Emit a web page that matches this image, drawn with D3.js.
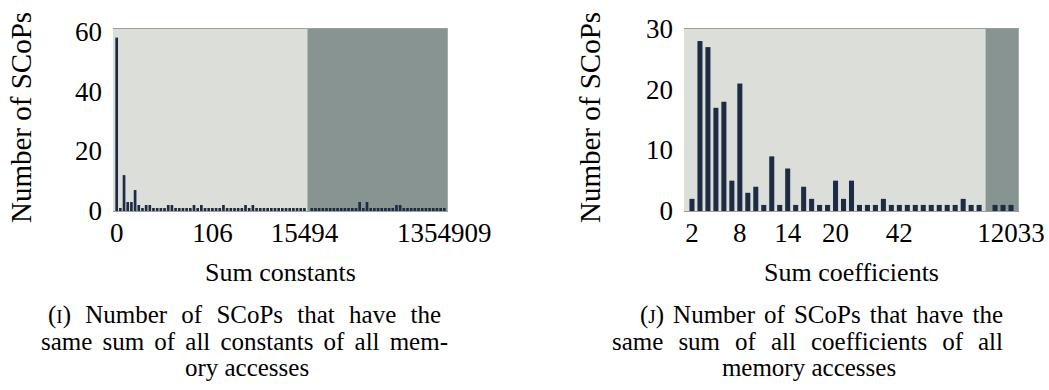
<!DOCTYPE html>
<html>
<head>
<meta charset="utf-8">
<script src="https://cdn.jsdelivr.net/npm/d3@7"></script>
<style>
  html, body { margin: 0; padding: 0; background: #fff; }
  svg { display: block; }
  text { font-family: "Liberation Serif", "DejaVu Serif", serif; fill: #000; }
</style>
</head>
<body>
<svg id="chart" width="1049" height="390"></svg>
<script>
// Panel (i): number of SCoPs per sum of constants
const constSlotsLight = [58, 1, 12, 3, 3, 7, 2, 1, 2, 2, 1, 1, 1, 1, 2, 2, 1, 1, 1, 1, 1, 2, 1, 2, 1, 1, 1, 1, 1, 2,
                         1, 1, 1, 1, 1, 2, 1, 2, 1, 1, 1, 1, 1, 1, 1, 1, 1, 1, 1, 1, 1, 1];
const constSlotsDark  = [1, 1, 1, 1, 1, 1, 1, 1, 1, 1, 1, 1, 1, 3, 1, 3, 1, 1, 1, 1, 1, 1, 1, 2, 2, 1, 1, 1, 1, 1,
                         1, 1, 1, 1, 1, 1, 1];
const constTickSlots  = [0, 26, 51, 89];
const constTickLabels = ["0", "106", "15494", "1354909"];
const constYTicks     = [0, 20, 40, 60];

// Panel (j): number of SCoPs per sum of coefficients
const coefSlotsLight  = [2, 28, 27, 17, 18, 5, 21, 3, 4, 1, 9, 1, 7, 1, 4, 2, 1, 1, 5, 2, 5, 1, 1, 1, 2, 1, 1, 1, 1, 1,
                         1, 1, 1, 1, 2, 1, 1];
const coefSlotsDark   = [1, 1, 1];
const coefTickSlots   = [0, 6, 12, 18, 26, 40];
const coefTickLabels  = ["2", "8", "14", "20", "42", "12033"];
const coefYTicks      = [0, 10, 20, 30];

const svg = d3.select("#chart");
const BAR = "#1e2b45", LIGHT = "#dcdeda", DARK = "#889492";

function panel(o) {
  const g = svg.append("g");
  const nLight = o.light.length;
  const gapSlot = nLight;                 // empty slot separating the two ranges
  const nSlots = nLight + 1 + o.dark.length;
  const x = d3.scaleLinear().domain([-1, nSlots]).range([o.left, o.right]);
  const y = d3.scaleLinear().domain([0, o.yMax]).range([o.bottom, o.top]);
  const step = x(1) - x(0);
  const bw = step * o.barFrac;
  const split = x(gapSlot) - step * 0.2;

  g.append("rect").attr("x", o.left).attr("y", o.top)
    .attr("width", split - o.left).attr("height", o.bottom - o.top).attr("fill", LIGHT);
  g.append("rect").attr("x", split).attr("y", o.top)
    .attr("width", o.right - split).attr("height", o.bottom - o.top).attr("fill", DARK);

  const bars = o.light.map((v, i) => ({ slot: i, v }))
    .concat(o.dark.map((v, i) => ({ slot: gapSlot + 1 + i, v })));
  g.selectAll("rect.bar").data(bars).join("rect").attr("class", "bar")
    .attr("x", d => x(d.slot) - bw / 2).attr("width", bw)
    .attr("y", d => y(d.v)).attr("height", d => y(0) - y(d.v))
    .attr("fill", BAR);

  // frame lines
  g.append("line").attr("x1", o.left).attr("x2", o.right).attr("y1", o.top + 0.5).attr("y2", o.top + 0.5)
    .attr("stroke", "#9ca09c").attr("stroke-width", 1);
  g.append("line").attr("x1", o.left).attr("x2", o.right).attr("y1", o.bottom + 0.5).attr("y2", o.bottom + 0.5)
    .attr("stroke", "#9ca09c").attr("stroke-width", 1.2);
  g.append("line").attr("x1", o.right - 0.5).attr("x2", o.right - 0.5).attr("y1", o.top).attr("y2", o.bottom)
    .attr("stroke", "#a7aca9").attr("stroke-width", 1);

  // y axis labels
  const yAxis = d3.axisLeft(y).tickValues(o.yTicks).tickSize(0).tickPadding(11);
  const ya = g.append("g").attr("transform", `translate(${o.left},0)`).call(yAxis);
  ya.select(".domain").remove();
  ya.selectAll("text").attr("font-size", 27).attr("font-family", "Liberation Serif").attr("fill", "#000");

  // x axis labels at their category slots
  const xa = g.append("g");
  xa.selectAll("text").data(o.xSlots).join("text")
    .attr("x", s => x(s)).attr("y", 242)
    .attr("text-anchor", "middle").attr("font-size", 27)
    .text((s, i) => o.xLabels[i]);

  g.append("text").attr("transform", `translate(${o.yTitleX},${(o.top + o.bottom) / 2 - 2}) rotate(-90)`)
    .attr("text-anchor", "middle").attr("dominant-baseline", "central")
    .attr("font-size", 29).text("Number of SCoPs");

  g.append("text").attr("x", (o.left + o.right) / 2).attr("y", 281)
    .attr("text-anchor", "middle").attr("font-size", 26).text(o.xTitle);

  // caption, justified lines
  o.caption.forEach((ln, i) => {
    const t = g.append("text").attr("y", 323 + i * 26.5).attr("font-size", 25);
    if (ln.tag) {
      t.append("tspan").text("(");
      t.append("tspan").attr("font-size", 19).text(ln.tag);
      t.append("tspan").text(") " + ln.text);
    } else {
      t.text(ln.text);
    }
    if (ln.x1 !== undefined) {
      t.attr("x", ln.x0);
      const natural = t.node().getComputedTextLength();
      const spaces = ((ln.tag ? "() " : "") + ln.text).split(" ").length - 1;
      t.attr("word-spacing", (ln.x1 - ln.x0 - natural) / spaces);
    } else {
      t.attr("x", ln.cx).attr("text-anchor", "middle");
    }
  });
}

panel({
  light: constSlotsLight, dark: constSlotsDark,
  left: 113, right: 448, top: 28, bottom: 211, yMax: 61.2, barFrac: 0.73,
  yTicks: constYTicks, xSlots: constTickSlots, xLabels: constTickLabels,
  yTitleX: 21, xTitle: "Sum constants",
  caption: [
    { tag: "I", text: "Number of SCoPs that have the", x0: 48, x1: 441 },
    { text: "same sum of all constants of all mem-", x0: 41, x1: 448 },
    { text: "ory accesses", cx: 247 }
  ]
});

panel({
  light: coefSlotsLight, dark: coefSlotsDark,
  left: 684, right: 1019, top: 28, bottom: 211, yMax: 30.15, barFrac: 0.63,
  yTicks: coefYTicks, xSlots: coefTickSlots, xLabels: coefTickLabels,
  yTitleX: 590, xTitle: "Sum coefficients",
  caption: [
    { tag: "J", text: "Number of SCoPs that have the", x0: 640, x1: 1003 },
    { text: "same sum of all coefficients of all", x0: 612, x1: 1003 },
    { text: "memory accesses", cx: 809 }
  ]
});
</script>
</body>
</html>
